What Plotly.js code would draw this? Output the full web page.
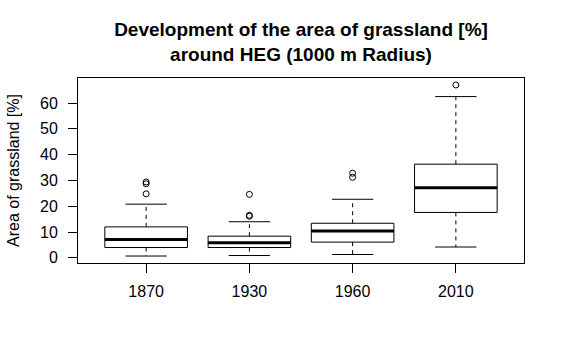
<!DOCTYPE html>
<html>
<head>
<meta charset="utf-8">
<script src="https://cdn.plot.ly/plotly-3.0.1.min.js"></script>
<style>html,body{margin:0;padding:0;background:#fff;}#chart{width:565px;height:361px;}</style>
</head>
<body>
<div id="chart"></div>
<script>
const years = ['1870', '1930', '1960', '2010'];
const q1 = [4.0, 4.0, 6.1, 17.6];
const medians = [7.1, 5.8, 10.4, 27.2];
const q3 = [12.0, 8.4, 13.4, 36.3];
const whiskerLow = [0.7, 0.9, 1.3, 4.2];
const whiskerHigh = [20.8, 14.0, 22.7, 62.5];
const outlierYears = ['1870', '1870', '1870', '1930', '1930', '1930', '1960', '1960', '2010'];
const outlierValues = [24.8, 28.7, 29.4, 24.6, 16.1, 16.5, 31.2, 32.8, 67.0];
const yTicks = [0, 10, 20, 30, 40, 50, 60];

const pos = years.map((_, i) => i + 1);
const boxHalf = 0.4, capHalf = 0.2;
const font = 'Liberation Sans, Arial, sans-serif';

const boxes = {
  type: 'box', x: pos, q1: q1, median: medians, q3: q3,
  lowerfence: q1, upperfence: q3, width: 2 * boxHalf, whiskerwidth: 0,
  fillcolor: 'rgba(255,255,255,0)', line: {color: '#000', width: 1},
  boxpoints: false, hoverinfo: 'skip', showlegend: false
};

const stemX = [], stemY = [], capX = [], capY = [], medX = [], medY = [];
pos.forEach((p, i) => {
  stemX.push(p, p, null, p, p, null);
  stemY.push(q3[i], whiskerHigh[i], null, q1[i], whiskerLow[i], null);
  capX.push(p - capHalf, p + capHalf, null, p - capHalf, p + capHalf, null);
  capY.push(whiskerHigh[i], whiskerHigh[i], null, whiskerLow[i], whiskerLow[i], null);
  medX.push(p - boxHalf, p + boxHalf, null);
  medY.push(medians[i], medians[i], null);
});

const stems = {type: 'scatter', mode: 'lines', x: stemX, y: stemY, line: {color: '#000', width: 1, dash: '4px,4px'}, hoverinfo: 'skip', showlegend: false};
const caps = {type: 'scatter', mode: 'lines', x: capX, y: capY, line: {color: '#000', width: 1}, hoverinfo: 'skip', showlegend: false};
const meds = {type: 'scatter', mode: 'lines', x: medX, y: medY, line: {color: '#000', width: 3}, hoverinfo: 'skip', showlegend: false};
const outliers = {
  type: 'scatter', mode: 'markers',
  x: outlierYears.map(y => years.indexOf(y) + 1), y: outlierValues,
  marker: {symbol: 'circle-open', size: 6, color: '#000', line: {width: 1, color: '#000'}},
  hoverinfo: 'skip', showlegend: false
};

const layout = {
  width: 565, height: 361,
  margin: {l: 78, r: 41, t: 78, b: 98, pad: 0},
  paper_bgcolor: '#fff', plot_bgcolor: '#fff',
  font: {family: font, size: 16, color: '#000'},
  showlegend: false,
  title: {
    text: 'Development of the area of grassland [%]<br>around HEG (1000 m Radius)',
    font: {family: font, size: 19, weight: 'bold', color: '#000'},
    x: 0.5, xref: 'paper', xanchor: 'center',
    y: 1 - 36 / 361, yref: 'container', yanchor: 'top'
  },
  xaxis: {
    range: [0.34, 4.66], tickvals: pos, ticktext: years,
    ticks: 'outside', ticklen: 9, tickwidth: 1, tickcolor: '#000',
    showline: true, linecolor: '#000', linewidth: 1, mirror: true,
    showgrid: false, zeroline: false, ticklabelstandoff: 5,
    tickfont: {family: font, size: 16, color: '#000'}
  },
  yaxis: {
    range: [-2.0, 69.7], tickvals: yTicks,
    ticks: 'outside', ticklen: 9, tickwidth: 1, tickcolor: '#000',
    showline: true, linecolor: '#000', linewidth: 1, mirror: true,
    showgrid: false, zeroline: false, ticklabelstandoff: 7,
    tickfont: {family: font, size: 16, color: '#000'},
    title: {text: 'Area of grassland [%]', font: {family: font, size: 16, color: '#000'}, standoff: 16}
  }
};

Plotly.newPlot('chart', [boxes, stems, caps, meds, outliers], layout, {staticPlot: true, displayModeBar: false});
</script>
</body>
</html>
